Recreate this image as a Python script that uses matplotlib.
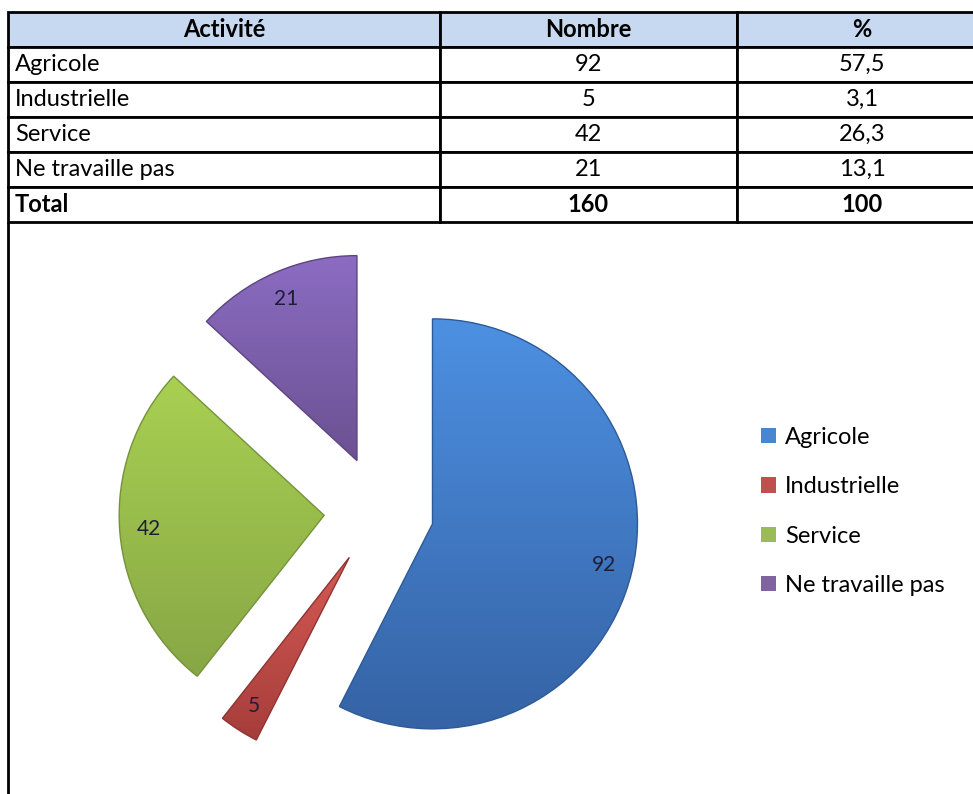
import numpy as np
import matplotlib
matplotlib.use("Agg")
import matplotlib.pyplot as plt
from matplotlib.table import Table
from matplotlib.colors import LinearSegmentedColormap

# ── Données ───────────────────────────────────────────────────────────────────
entetes = ["Activité", "Nombre", "%"]
activites = ["Agricole", "Industrielle", "Service", "Ne travaille pas"]
nombres = [92, 5, 42, 21]
pourcents = [57.5, 3.1, 26.3, 13.1]
total_nombre = 160
total_pct = 100

# ── Style ─────────────────────────────────────────────────────────────────────
W, H = 973, 794
C_ENTETE = "#C6D9F1"
C_BASE = ["#4A86D0", "#C0504D", "#9BBB59", "#8064A2"]
C_HAUT = ["#4D90E2", "#D65A55", "#A9D052", "#8B6CC2"]
C_BAS = ["#3563A5", "#A53D3A", "#87A745", "#6C5192"]
C_BORD = ["#2E5A96", "#8E3432", "#76923C", "#5C4580"]
plt.rcParams["font.family"] = ["Lato", "DejaVu Sans"]
FS = 17


def fmt(v):
    return f"{v:g}".replace(".", ",")


fig = plt.figure(figsize=(W / 100, H / 100), dpi=100, facecolor="white")
ax = fig.add_axes([0, 0, 1, 1])
ax.set_axis_off()

# ── Tableau ───────────────────────────────────────────────────────────────────
lignes = [[a, str(n), fmt(p)] for a, n, p in zip(activites, nombres, pourcents)]
lignes.append(["Total", str(total_nombre), str(total_pct)])
largeurs = [432, 297, 250]

tbl = Table(ax, bbox=[8 / W, 1 - 222 / H, sum(largeurs) / W, 210 / H])
for j, txt in enumerate(entetes):
    c = tbl.add_cell(0, j, largeurs[j], 1, text=txt, loc="center",
                     facecolor=C_ENTETE)
    c.set_text_props(fontweight="bold")
for i, ligne in enumerate(lignes, start=1):
    for j, txt in enumerate(ligne):
        c = tbl.add_cell(i, j, largeurs[j], 1, text=txt,
                         loc="left" if j == 0 else "center", facecolor="white")
        if j == 0:
            c.PAD = 0.016
        if i == len(lignes):
            c.set_text_props(fontweight="bold")
tbl.auto_set_font_size(False)
tbl.set_fontsize(FS)
for c in tbl.get_celld().values():
    c.set_linewidth(2.0)
    c.set_edgecolor("black")
ax.add_table(tbl)

# bordure gauche qui descend jusqu'en bas
ax.plot([8, 8], [0, H - 222], color="black", lw=2.0, solid_capstyle="butt")

# ── Camembert éclaté ──────────────────────────────────────────────────────────
rayon = 205
wedges, textes, valeurs = ax.pie(
    nombres,
    center=(379, H - 511),
    radius=rayon,
    explode=[55] * len(nombres),
    startangle=90,
    counterclock=False,
    colors=C_BASE,
    autopct=lambda p: f"{p * total_nombre / 100:.0f}",
    pctdistance=0.86,
    wedgeprops={"linewidth": 1.0},
    frame=True,
)
for t in valeurs:
    t.set_fontsize(15)
    t.set_color("#1E1E38")
    t.set_zorder(5)

ax.legend(
    wedges, activites,
    loc="upper left", bbox_to_anchor=(761 / W, 1 - 427 / H),
    frameon=False, fontsize=FS,
    handlelength=0.62, handleheight=0.62, handletextpad=0.4,
    labelspacing=1.2, borderpad=0, borderaxespad=0,
)

# dégradé vertical dans chaque part
grad = np.linspace(0, 1, 256).reshape(-1, 1)
for w, haut, bas, bord in zip(wedges, C_HAUT, C_BAS, C_BORD):
    bb = w.get_path().get_extents()
    cmap = LinearSegmentedColormap.from_list("g", [bas, haut])
    im = ax.imshow(grad, cmap=cmap, origin="lower", aspect="auto",
                   extent=[bb.x0, bb.x1, bb.y0, bb.y1],
                   interpolation="bicubic", zorder=0.9)
    im.set_clip_path(w)
    w.set_facecolor("none")
    w.set_edgecolor(bord)

ax.set_xlim(0, W)
ax.set_ylim(0, H)
ax.set_aspect("auto")

fig.savefig("out.png", dpi=100, facecolor="white")
